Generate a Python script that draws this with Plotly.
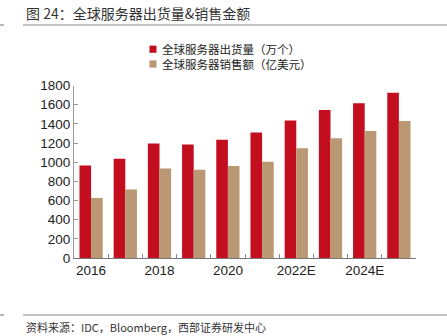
import plotly.graph_objects as go

# Yearly categories (E = estimate)
years = ["2016", "2017", "2018", "2019", "2020", "2021", "2022E", "2023E", "2024E", "2025E"]
tick_labels = ["2016", "", "2018", "", "2020", "", "2022E", "", "2024E", ""]

shipments_name = "全球服务器出货量（万个）"
shipments = [965, 1035, 1195, 1185, 1235, 1310, 1435, 1545, 1615, 1725]

sales_name = "全球服务器销售额（亿美元）"
sales = [625, 715, 935, 920, 960, 1005, 1145, 1250, 1325, 1430]

title_text = "图 24：全球服务器出货量&销售金额"
source_text = "资料来源：IDC，Bloomberg，西部证券研发中心"

RED = "#C20E1E"
TAN = "#B99873"
FONT = "Liberation Sans, Noto Sans CJK SC, sans-serif"
CJK = "Noto Sans CJK SC, Liberation Sans, sans-serif"

W, H = 447, 336
# plot area in pixels
PX0, PX1 = 74, 416
PY_TOP, PY_BOT = 85.5, 258


def fx(px):
    return px / W


def fy(py):
    return 1 - py / H


fig = go.Figure()
fig.add_trace(go.Bar(x=years, y=shipments, name=shipments_name,
                     marker=dict(color=RED, line=dict(width=0)), showlegend=False))
fig.add_trace(go.Bar(x=years, y=sales, name=sales_name,
                     marker=dict(color=TAN, line=dict(width=0)), showlegend=False))

fig.update_layout(
    width=W, height=H,
    margin=dict(l=0, r=0, t=0, b=0),
    paper_bgcolor="white", plot_bgcolor="white",
    barmode="group", bargap=0.32, bargroupgap=0.0,
    font=dict(family=FONT, color="#222", size=13),
)

fig.update_xaxes(
    domain=[fx(PX0), fx(PX1)], automargin=False,
    type="category", tickmode="array", tickvals=years, ticktext=tick_labels,
    tickangle=0, tickson="boundaries", ticks="inside", ticklen=4, tickcolor="#888",
    showline=True, linecolor="#777", linewidth=1,
    showgrid=False, tickfont=dict(size=13.5, color="#222"),
)
fig.update_yaxes(
    domain=[fy(PY_BOT), fy(PY_TOP)], automargin=False,
    range=[0, 1800], dtick=200, ticks="inside", ticklen=4, tickcolor="#999",
    showline=True, linecolor="#999", linewidth=1,
    showgrid=False, zeroline=False, tickfont=dict(size=13.5, color="#222"),
)

# Custom legend: small squares plus a two-line label block
legend_rows = [(RED, 49.2), (TAN, 64)]
for color, yc in legend_rows:
    fig.add_shape(type="rect", xref="paper", yref="paper",
                  x0=fx(149.5), x1=fx(156.5),
                  y0=fy(yc + 3.6), y1=fy(yc - 3.6),
                  fillcolor=color, line=dict(width=0))
fig.add_annotation(text=shipments_name + "<br>" + sales_name,
                   xref="paper", yref="paper",
                   x=fx(159.5), y=fy(56.6),
                   xanchor="left", yanchor="middle", align="left", showarrow=False,
                   font=dict(family=CJK, size=11.5, color="#222"))

# Title and source
fig.add_annotation(text=title_text, xref="paper", yref="paper",
                   x=fx(24), y=fy(13),
                   xanchor="left", yanchor="middle", showarrow=False,
                   font=dict(family=CJK, size=14, color="#333"))
fig.add_annotation(text=source_text, xref="paper", yref="paper",
                   x=fx(24), y=fy(327),
                   xanchor="left", yanchor="middle", showarrow=False,
                   font=dict(family=CJK, size=11, color="#333"))

# Rule lines under the title and above the source
for yline in (25, 315):
    for x0, x1 in ((0, 4), (23, 447)):
        fig.add_shape(type="line", xref="paper", yref="paper",
                      x0=fx(x0), x1=fx(x1),
                      y0=fy(yline), y1=fy(yline),
                      line=dict(color="#888", width=1.2))

fig.write_html("out.html")
